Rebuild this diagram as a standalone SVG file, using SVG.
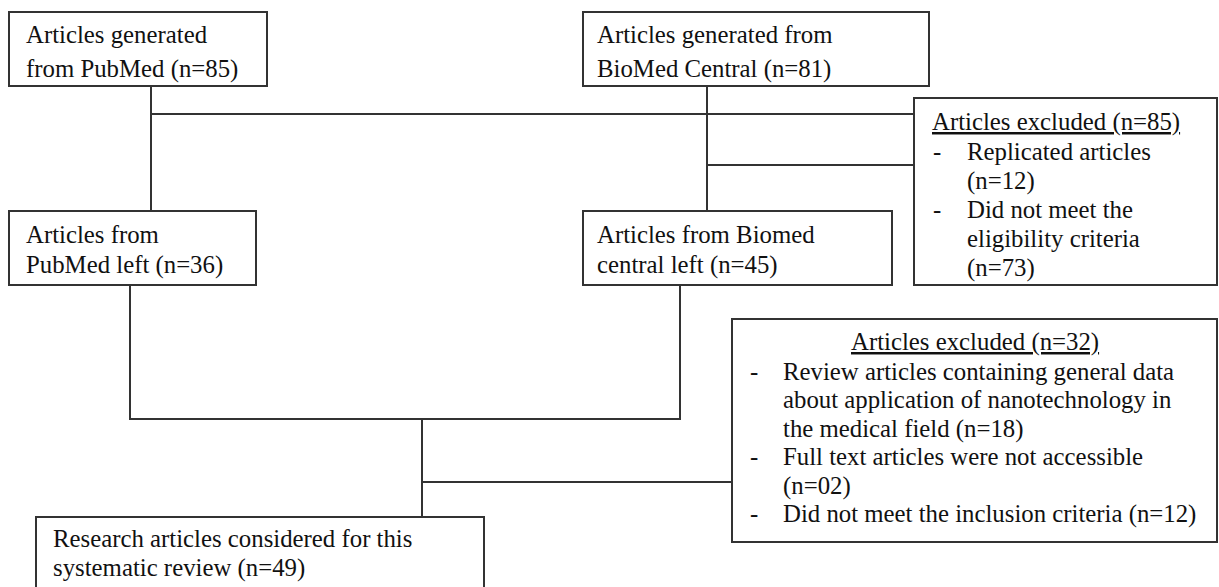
<svg xmlns="http://www.w3.org/2000/svg" width="1219" height="587" viewBox="0 0 1219 587">
<style>
.box{fill:#fff;stroke:#333;stroke-width:2}
.ln{fill:none;stroke:#333;stroke-width:2}
text{font-family:"Liberation Serif","Times New Roman",serif;font-size:24.8px;fill:#111}
.u{text-decoration:underline}
</style>
<rect width="1219" height="587" fill="#fff"/>
<g id="connectors">
<path class="ln" d="M151 86V211M151 114H914M707 86V211M707 165H914"/>
<path class="ln" d="M130 285V419H680V285M422 419V517M422 482H732"/>
</g>
<g id="pubmed">
<rect class="box" x="9" y="12" width="258" height="74"/>
<text x="26" y="43">Articles generated</text>
<text x="26" y="77">from PubMed (n=85)</text>
</g>
<g id="biomed">
<rect class="box" x="583" y="12" width="346" height="74"/>
<text x="597" y="43">Articles generated from</text>
<text x="597" y="77">BioMed Central (n=81)</text>
</g>
<g id="excluded85">
<rect class="box" x="914" y="98" width="303" height="187"/>
<text x="932" y="130" class="u">Articles excluded (n=85)</text>
<text x="933" y="160">-</text><text x="967" y="160">Replicated articles</text>
<text x="967" y="189">(n=12)</text>
<text x="933" y="218">-</text><text x="967" y="218">Did not meet the</text>
<text x="967" y="247">eligibility criteria</text>
<text x="967" y="276">(n=73)</text>
</g>
<g id="pubmedleft">
<rect class="box" x="9" y="211" width="247" height="74"/>
<text x="26" y="243">Articles from</text>
<text x="26" y="273">PubMed left (n=36)</text>
</g>
<g id="biomedleft">
<rect class="box" x="583" y="211" width="309" height="74"/>
<text x="597" y="243">Articles from Biomed</text>
<text x="597" y="273">central left (n=45)</text>
</g>
<g id="excluded32">
<rect class="box" x="732" y="319" width="485" height="223"/>
<text x="851" y="350" class="u">Articles excluded (n=32)</text>
<text x="750" y="380">-</text><text x="783" y="380">Review articles containing general data</text>
<text x="783" y="408">about application of nanotechnology in</text>
<text x="783" y="437">the medical field (n=18)</text>
<text x="750" y="465">-</text><text x="783" y="465">Full text articles were not accessible</text>
<text x="783" y="494">(n=02)</text>
<text x="750" y="522">-</text><text x="783" y="522">Did not meet the inclusion criteria (n=12)</text>
</g>
<g id="included">
<rect class="box" x="36" y="517" width="448" height="90"/>
<text x="53" y="547">Research articles considered for this</text>
<text x="53" y="576">systematic review (n=49)</text>
</g>
</svg>
